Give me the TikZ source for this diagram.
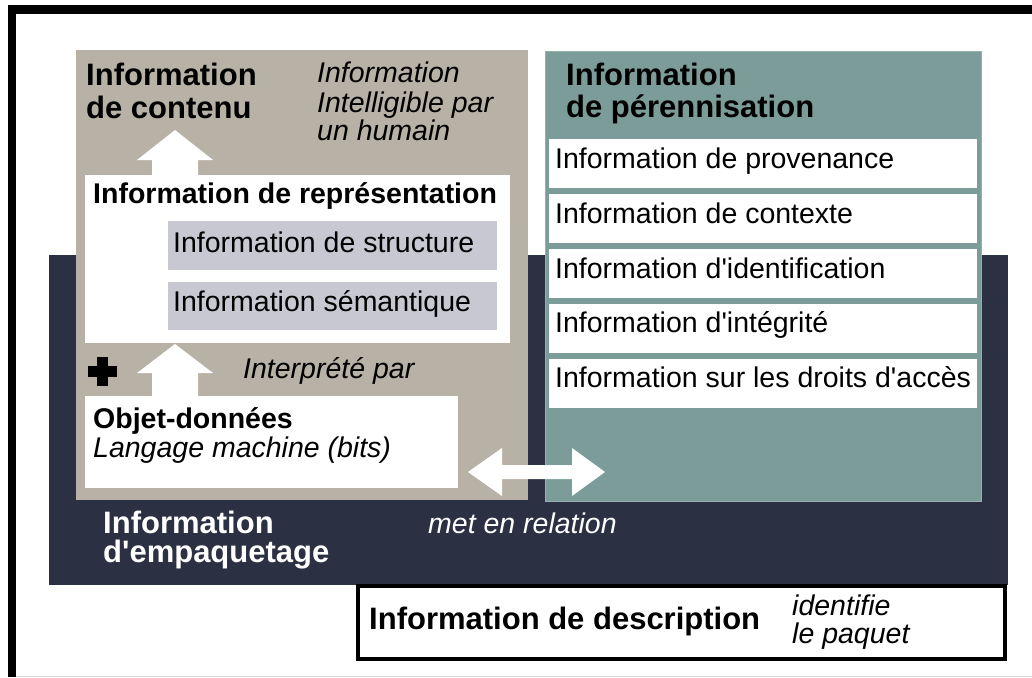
\documentclass[tikz,border=0pt]{standalone}
\usepackage{fontspec}
\setmainfont{Liberation Sans}[Ligatures=TeXOff]
\definecolor{beige}{HTML}{B8B1A6}
\definecolor{teal}{HTML}{7B9C99}
\definecolor{navy}{HTML}{2B3043}
\definecolor{lav}{HTML}{C8C8D3}
\begin{document}
\begin{tikzpicture}[x=1pt,y=-1pt,
  box/.style={anchor=north west,inner sep=0,outer sep=0,draw=none},
  hdr/.style={anchor=base west,inner sep=0,font=\fontsize{31}{32}\selectfont\bfseries},
  bld/.style={anchor=base west,inner sep=0,font=\fontsize{28.5}{30}\selectfont\bfseries},
  txt/.style={anchor=base west,inner sep=0,font=\fontsize{28.5}{30}\selectfont},
  itx/.style={anchor=base west,inner sep=0,font=\fontsize{28.5}{30}\selectfont\itshape},
  blockarrow/.style={fill=white,draw=none}]
\useasboundingbox (0,0) rectangle (1032,677);
\fill[white] (0,0) rectangle (1032,677);
% frame
\draw[line width=9pt] (8,9.5) -- (1032,9.5);
\draw[line width=8pt] (12,5) -- (12,677);
\draw[black!15,line width=1pt] (16,676.5) -- (1032,676.5);
% packaging band
\node[box,fill=navy,minimum width=959pt,minimum height=330pt] (pack) at (49,255) {};
% content and preservation
\node[box,fill=beige,minimum width=452pt,minimum height=450pt] (cont) at (76,50) {};
\node[box,fill=teal,draw=teal!80!white,line width=0.8pt,minimum width=436pt,minimum height=450pt] (pdi) at (545,51) {};
% representation
\node[box,fill=white,minimum width=425pt,minimum height=168pt] (rep) at (85,175) {};
\node[box,fill=lav,minimum width=329pt,minimum height=49pt] (struct) at (168,221) {};
\node[box,fill=lav,minimum width=329pt,minimum height=48pt] (sem) at (168,282) {};
% data object
\node[box,fill=white,minimum width=373pt,minimum height=92pt] (obj) at (85,396) {};
% preservation sub boxes
\foreach \n/\y in {prov/139,ctx/194,ident/249,integ/304,acc/359}{
  \node[box,fill=white,minimum width=428pt,minimum height=49pt] (\n) at (549,\y) {};
}
% description
\node[box,fill=white,draw=black,line width=4pt,minimum width=647pt,minimum height=73pt] (desc) at (358,586) {};
% arrows
\fill[blockarrow] (152,177) -- (152,160) -- (137,160) -- (175,130) -- (213,160) -- (198,160) -- (198,177) -- cycle;
\fill[blockarrow] (152,397) -- (152,373) -- (137,373) -- (175,344) -- (213,373) -- (198,373) -- (198,397) -- cycle;
\fill[blockarrow] (468,472) -- (502,448) -- (502,465) -- (572,465) -- (572,448) -- (605,472) -- (572,496) -- (572,479) -- (502,479) -- (502,496) -- cycle;
% plus
\fill[black] (88,366) rectangle (117,377);
\fill[black] (97,357) rectangle (108,386);
% texts
\node[hdr] (contA) at (86,85) {Information};
\node[hdr] (contB) at (86,118) {de contenu};
\node[itx] (hA) at (317,82) {Information};
\node[itx] (hB) at (317,112) {Intelligible par};
\node[itx] (hC) at (317,140) {un humain};
\node[hdr] (pdiA) at (566,85) {Information};
\node[hdr] (pdiB) at (566,117) {de pérennisation};
\node[bld] (repT) at (93,203) {Information de représentation};
\node[txt] (structT) at (173,252) {Information de structure};
\node[txt] (semT) at (173,311) {Information sémantique};
\node[itx] (interp) at (243,378) {Interprété par};
\node[bld] (objT) at (93,428) {Objet-données};
\node[itx] (objL) at (93,457) {Langage machine (bits)};
\node[txt] (provT) at (555,168) {Information de provenance};
\node[txt] (ctxT) at (555,223) {Information de contexte};
\node[txt] (identT) at (555,278) {Information d'identification};
\node[txt] (integT) at (555,332) {Information d'intégrité};
\node[txt] (accT) at (555,387) {Information sur les droits d'accès};
\node[hdr,text=white] (packA) at (103,533) {Information};
\node[hdr,text=white] (packB) at (103,562) {d'empaquetage};
\node[itx,text=white] (rel) at (428,533) {met en relation};
\node[hdr] (descT) at (369,629) {Information de description};
\node[itx] (descA) at (792,615) {identifie};
\node[itx] (descB) at (792,643) {le paquet};
\end{tikzpicture}
\end{document}
